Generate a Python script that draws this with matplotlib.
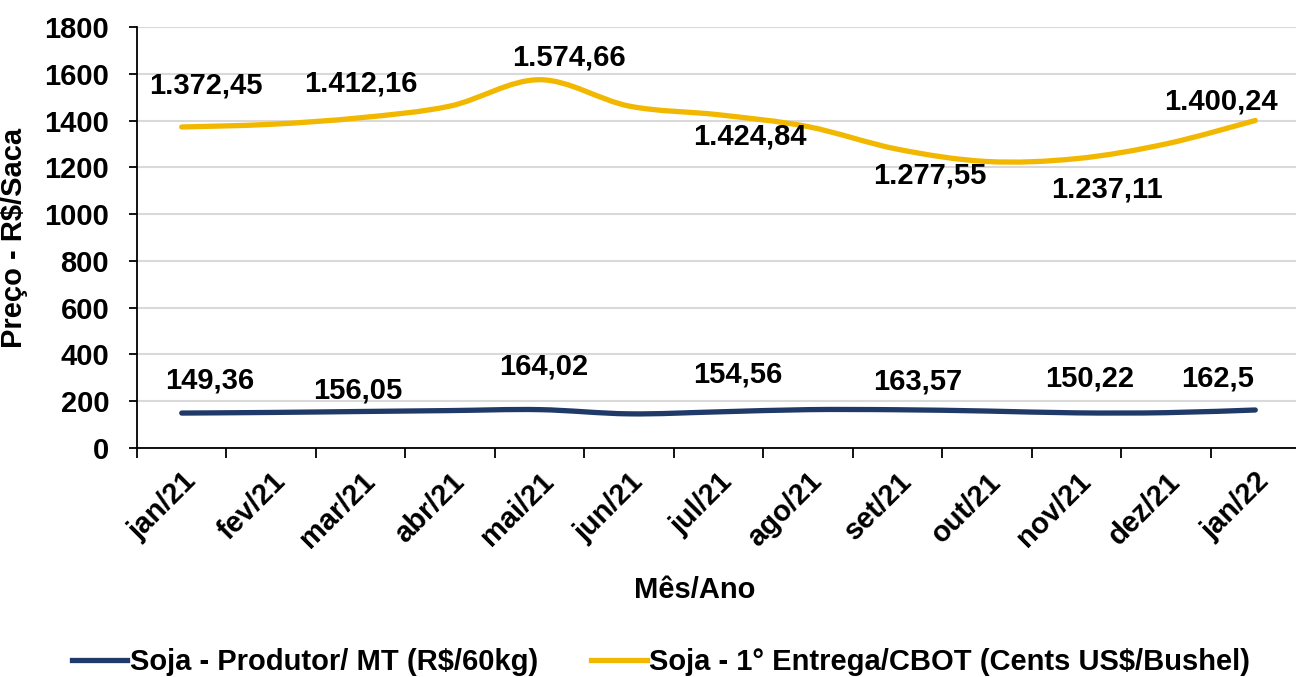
import numpy as np
import matplotlib.pyplot as plt
from matplotlib.path import Path
from matplotlib.patches import PathPatch
from matplotlib.lines import Line2D

plt.rcParams['font.family'] = ['Liberation Sans', 'DejaVu Sans']
plt.rcParams['font.weight'] = 'bold'

months = ['jan/21', 'fev/21', 'mar/21', 'abr/21', 'mai/21', 'jun/21', 'jul/21',
          'ago/21', 'set/21', 'out/21', 'nov/21', 'dez/21', 'jan/22']
produtor = [149.36, 152, 156.05, 160, 164.02, 146, 154.56, 164, 163.57, 158, 150.22, 151, 162.5]
cbot = [1372.45, 1384, 1412.16, 1462, 1574.66, 1462, 1424.84, 1374, 1277.55, 1225, 1237.11, 1300, 1400.24]

# which points carry a data label
label_idx = [0, 2, 4, 6, 8, 10, 12]
# label offsets in pixels (dx, dy) for each labelled point
cbot_offsets = [(24, 41), (0, 34), (29, 22), (31, -22), (32, -26), (31, -31), (-34, 19)]
prod_offsets = [(28, 33), (-3, 21), (4, 43), (19, 37), (20, 28), (13, 34), (-38, 31)]

BLUE = '#1F3A68'
GOLD = '#F2B800'
FS = 21


def fmt_br(v):
    s = f'{v:,.2f}'.replace(',', 'X').replace('.', ',').replace('X', '.')
    if s.endswith('0') and ',' in s:
        s = s.rstrip('0')
    return s


def smooth_path(xs, ys):
    # excel-like smoothed line: cubic bezier segments through every point
    pts = np.column_stack([xs, ys]).astype(float)
    n = len(pts)
    verts = [pts[0]]
    codes = [Path.MOVETO]
    for i in range(n - 1):
        p0 = pts[i - 1] if i > 0 else pts[i]
        p1 = pts[i]
        p2 = pts[i + 1]
        p3 = pts[i + 2] if i + 2 < n else pts[i + 1]
        c1 = p1 + (p2 - p0) / 6.0
        c2 = p2 - (p3 - p1) / 6.0
        verts += [c1, c2, p2]
        codes += [Path.CURVE4] * 3
    return Path(verts, codes)


fig = plt.figure(figsize=(12.96, 6.77), dpi=100)
ax = fig.add_axes([137 / 1296, 1 - 448 / 677, (1300 - 137) / 1296, (448 - 27) / 677])

x = np.arange(len(months))
for vals, col in [(produtor, BLUE), (cbot, GOLD)]:
    patch = PathPatch(smooth_path(x, vals), facecolor='none', edgecolor=col,
                      lw=3.8, capstyle='round', joinstyle='round', zorder=3)
    ax.add_patch(patch)

for vals, offs in [(cbot, cbot_offsets), (produtor, prod_offsets)]:
    for i, (dx, dy) in zip(label_idx, offs):
        ax.annotate(fmt_br(vals[i]), (x[i], vals[i]), xytext=(dx * 0.72, dy * 0.72),
                    textcoords='offset points', ha='center', va='center',
                    fontsize=FS, fontweight='bold', color='black', zorder=4)

ax.set_xlim(-0.5, len(months) - 0.5)
ax.set_ylim(0, 1800)
ax.set_yticks(range(0, 1801, 200))
ax.set_xticks(x)
ax.set_xticklabels(months, rotation=45, ha='right', rotation_mode='anchor')
ax.set_xticks(np.arange(-0.5, len(months), 1), minor=True)
ax.tick_params(axis='x', which='major', length=0, labelsize=FS, pad=14)
ax.tick_params(axis='x', which='minor', length=7, width=1.3, direction='out')
ax.tick_params(axis='y', length=6, width=1.3, labelsize=FS, pad=14)

ax.grid(axis='y', color='#D9D9D9', lw=1.5)
ax.set_axisbelow(True)
for s in ['top', 'right']:
    ax.spines[s].set_visible(False)
ax.spines['left'].set_linewidth(1.3)
ax.spines['bottom'].set_linewidth(1.3)

ax.set_ylabel('Preço - R$/Saca', fontsize=FS, fontweight='bold')
ax.yaxis.set_label_coords((28 - 137) / 1163, 0.5)
fig.text(695 / 1296, 1 - 590 / 677, 'Mês/Ano', ha='center', va='center',
         fontsize=FS, fontweight='bold')

handles = [Line2D([], [], color=BLUE, lw=3.8),
           Line2D([], [], color=GOLD, lw=3.8)]
fig.legend(handles, ['Soja - Produtor/ MT (R$/60kg)', 'Soja - 1° Entrega/CBOT (Cents US$/Bushel)'],
           loc='center left', bbox_to_anchor=(72 / 1296, 1 - 662 / 677), ncol=2, frameon=False,
           fontsize=FS, handlelength=1.9, handletextpad=0.1, columnspacing=1.8,
           borderpad=0.0, borderaxespad=0.0)

fig.savefig('out.png', dpi=100)
